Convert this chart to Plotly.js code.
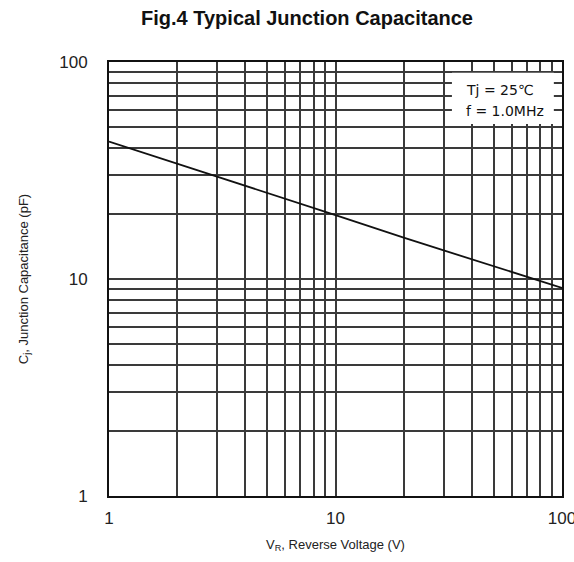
<!DOCTYPE html>
<html>
<head>
<meta charset="utf-8">
<script src="https://cdn.plot.ly/plotly-3.0.1.min.js"></script>
<style>html,body{margin:0;padding:0;background:#fff;}#chart{width:574px;height:562px;}</style>
</head>
<body>
<div id="chart"></div>
<script>
// Reverse voltage (V) and junction capacitance (pF)
const voltage = [1, 2, 5, 10, 20, 50, 100];
const capacitance = [43, 34, 25, 19.7, 15.5, 11.5, 9.1];

const gridVals = [1,2,3,4,5,6,7,8,9,10,20,30,40,50,60,70,80,90,100];
const gridText = gridVals.map(v => (v === 1 || v === 10 || v === 100) ? String(v) : '');

const font = 'Liberation Sans, Arial, sans-serif';

const trace = {
  x: voltage, y: capacitance, type: 'scatter', mode: 'lines',
  line: {color: '#111', width: 1.8}, hoverinfo: 'skip'
};

const axisCommon = {
  type: 'log', tickvals: gridVals, ticktext: gridText,
  showgrid: true, gridcolor: '#3a3a3a', gridwidth: 2,
  showline: true, linecolor: '#111', linewidth: 2, mirror: true,
  ticks: '', zeroline: false, ticklabeloverflow: 'allow',
  tickfont: {family: font, size: 17, color: '#222'}
};

const layout = {
  width: 574, height: 562,
  margin: {l: 109, r: 12, t: 62, b: 66},
  paper_bgcolor: '#fff', plot_bgcolor: '#fff',
  showlegend: false,
  title: {
    text: '<b>Fig.4 Typical Junction Capacitance</b>',
    font: {family: font, size: 20, color: '#111'},
    x: 307/574, xanchor: 'center', xref: 'container',
    y: 1 - 18/562, yanchor: 'middle', yref: 'container'
  },
  xaxis: Object.assign({}, axisCommon, {
    range: [0, 2], ticklabelstandoff: 6,
    title: {text: 'V<sub>R</sub>, Reverse Voltage (V)', font: {family: font, size: 13, color: '#222'}, standoff: 12}
  }),
  yaxis: Object.assign({}, axisCommon, {
    range: [0, 2], ticklabelstandoff: 16,
    title: {text: 'C<sub>j</sub>, Junction Capacitance (pF)', font: {family: font, size: 13, color: '#222'}, standoff: 28}
  }),
  shapes: [{
    type: 'rect', xref: 'paper', yref: 'paper',
    x0: 0.757, x1: 0.982, y0: 0.857, y1: 0.975,
    fillcolor: '#fff', line: {width: 0}, layer: 'above'
  }],
  annotations: [
    {text: 'Tj = 25℃', xref: 'paper', yref: 'paper', x: 0.784, y: 0.935,
     xanchor: 'left', yanchor: 'middle', showarrow: false,
     font: {family: 'DejaVu Sans, sans-serif', size: 14, color: '#111'}},
    {text: 'f = 1.0MHz', xref: 'paper', yref: 'paper', x: 0.784, y: 0.887,
     xanchor: 'left', yanchor: 'middle', showarrow: false,
     font: {family: 'DejaVu Sans, sans-serif', size: 14, color: '#111'}}
  ]
};

Plotly.newPlot('chart', [trace], layout, {displayModeBar: false, staticPlot: true});
</script>
</body>
</html>
